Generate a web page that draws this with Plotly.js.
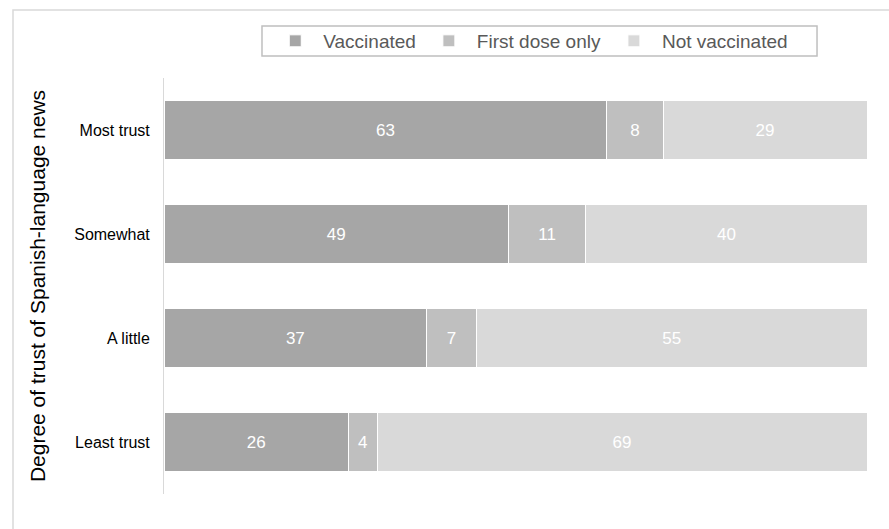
<!DOCTYPE html>
<html>
<head>
<meta charset="utf-8">
<script src="https://cdn.plot.ly/plotly-3.0.1.min.js"></script>
<style>
html,body{margin:0;padding:0;background:#fff;}
#chart{width:889px;height:529px;}
</style>
</head>
<body>
<div id="chart"></div>
<script>
const categories = ["Most trust", "Somewhat", "A little", "Least trust"];
const seriesNames = ["Vaccinated", "First dose only", "Not vaccinated"];
const vaccinated = [63, 49, 37, 26];
const firstDoseOnly = [8, 11, 7, 4];
const notVaccinated = [29, 40, 55, 69];
const seriesColors = ["#a6a6a6", "#bfbfbf", "#d9d9d9"];
const yTitle = "Degree of trust of Spanish-language news";

const FONT = "Arial, 'Liberation Sans', sans-serif";
const values = [vaccinated, firstDoseOnly, notVaccinated];

const traces = values.map((v, i) => ({
  type: "bar",
  orientation: "h",
  name: seriesNames[i],
  y: categories,
  x: v,
  text: v.map(String),
  textposition: "inside",
  insidetextanchor: "middle",
  textangle: 0,
  textfont: {family: FONT, size: 17, color: "#ffffff"},
  marker: {color: seriesColors[i], line: {color: "#ffffff", width: 1}},
  width: 0.56,
  hoverinfo: "name+x"
}));

const layout = {
  width: 889,
  height: 529,
  paper_bgcolor: "#ffffff",
  plot_bgcolor: "#ffffff",
  margin: {l: 164, r: 22, t: 78, b: 35},
  barmode: "stack",
  barnorm: "percent",
  showlegend: true,
  legend: {
    orientation: "h",
    x: 0.521, xanchor: "center",
    y: 1.089, yanchor: "middle",
    itemwidth: 46,
    font: {family: FONT, size: 19, color: "#595959"},
    bgcolor: "rgba(0,0,0,0)",
    traceorder: "normal"
  },
  xaxis: {
    range: [0, 100],
    visible: false,
    fixedrange: true
  },
  yaxis: {
    autorange: "reversed",
    showline: true,
    linecolor: "#d9d9d9",
    linewidth: 1,
    showgrid: false,
    zeroline: false,
    ticks: "",
    ticklabelstandoff: 10,
    tickfont: {family: FONT, size: 16, color: "#000000"},
    title: {text: yTitle, font: {family: FONT, size: 21, color: "#000000"}, standoff: 22}
  },
  shapes: [
    {type: "rect", xref: "paper", yref: "paper", x0: 0.1394, x1: 0.9289, y0: 1.0529, y1: 1.125,
     line: {color: "#bfbfbf", width: 1.5}, fillcolor: "rgba(0,0,0,0)"},
    {type: "path", xref: "paper", yref: "paper",
     path: "M 1.2,1.1635 L -0.2148,1.1635 L -0.2148,-0.2",
     line: {color: "#d9d9d9", width: 1.5}}
  ]
};

Plotly.newPlot("chart", traces, layout, {displayModeBar: false, staticPlot: true});
</script>
</body>
</html>
